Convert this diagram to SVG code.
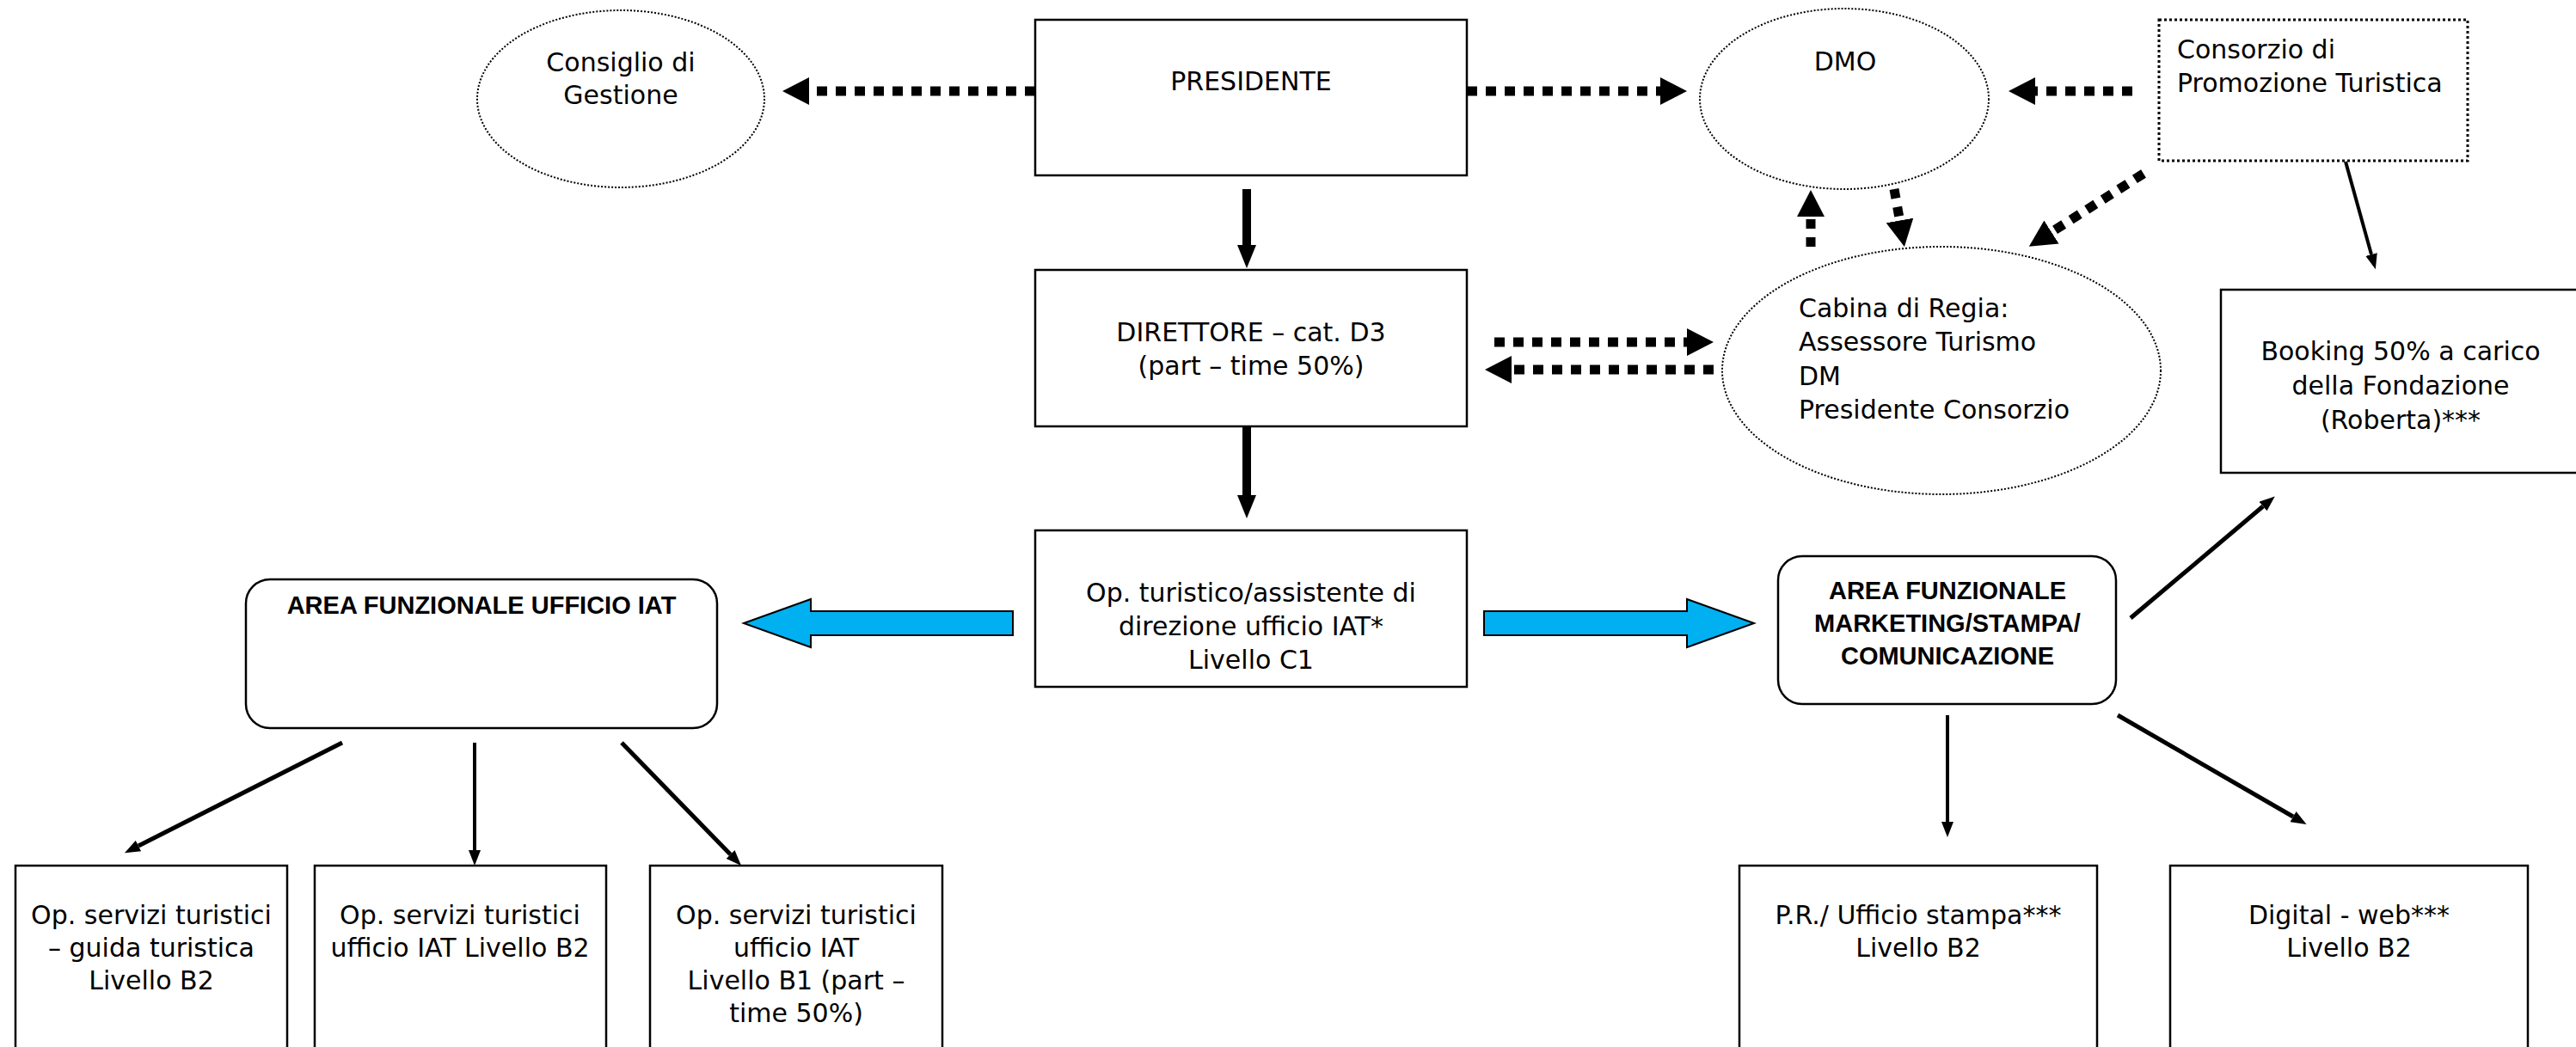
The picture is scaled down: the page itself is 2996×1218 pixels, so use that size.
<svg xmlns="http://www.w3.org/2000/svg" width="2996" height="1218" viewBox="0 0 2996 1218">
<style>
.box{fill:#fff;stroke:#000;stroke-width:2.5}
.oval{fill:#fff;stroke:#000;stroke-width:2;stroke-dasharray:2 2}
.dbox{fill:#fff;stroke:#000;stroke-width:3;stroke-dasharray:3 3}
.t{font-family:"DejaVu Sans","Liberation Sans",sans-serif;font-size:30px;fill:#000}
.c{text-anchor:middle}
.b{font-family:"Liberation Sans",Arial,sans-serif;font-size:29px;font-weight:bold;fill:#000;text-anchor:middle}
.dot{fill:none;stroke:#000;stroke-width:11;stroke-dasharray:12 10;marker-end:url(#hd)}
.dash{fill:none;stroke:#000;stroke-width:11;stroke-dasharray:11 10;marker-end:url(#hd)}
.thick{fill:none;stroke:#000;stroke-width:10;marker-end:url(#hb)}
.thin{fill:none;stroke:#000;stroke-width:4;marker-end:url(#ht)}
.thin5{fill:none;stroke:#000;stroke-width:5;marker-end:url(#ht)}
.blue{fill:#00B0F0;stroke:#000;stroke-width:2}
</style>
<defs>
<marker id="hd" markerUnits="userSpaceOnUse" viewBox="0 0 31 32" markerWidth="31" markerHeight="32" refX="0" refY="16" orient="auto"><path d="M0,0 L31,16 L0,32 z" fill="#000"/></marker>
<marker id="hb" markerUnits="userSpaceOnUse" viewBox="0 0 27 22" markerWidth="27" markerHeight="22" refX="0" refY="11" orient="auto"><path d="M0,0 L27,11 L0,22 z" fill="#000"/></marker>
<marker id="ht" markerUnits="userSpaceOnUse" viewBox="0 0 18 14" markerWidth="18" markerHeight="14" refX="0" refY="7" orient="auto"><path d="M0,0 L18,7 L0,14 z" fill="#000"/></marker>
</defs>
<rect width="2996" height="1218" fill="#fff"/>

<g id="connectors">
<line class="dot" x1="1204" y1="106" x2="941" y2="106"/>
<line class="dot" x1="1706" y1="106" x2="1931" y2="106"/>
<line class="dot" x1="2480" y1="106" x2="2367" y2="106"/>
<line class="dot" x1="1738" y1="398" x2="1962" y2="398"/>
<line class="dot" x1="1993" y1="430" x2="1758" y2="430"/>
<line class="dash" x1="2106" y1="287" x2="2106" y2="252"/>
<line class="dash" x1="2203" y1="220" x2="2209.5" y2="256.5"/>
<line class="dot" x1="2493" y1="202" x2="2386" y2="270"/>
<line class="thick" x1="1450" y1="220" x2="1450" y2="285"/>
<line class="thick" x1="1450" y1="497" x2="1450" y2="576"/>
<line class="thin" x1="2728" y1="188" x2="2758" y2="296"/>
<line class="thin5" x1="2478" y1="719" x2="2632" y2="589"/>
<line class="thin" x1="2265" y1="832" x2="2265" y2="956"/>
<line class="thin5" x1="2463" y1="832" x2="2667" y2="950"/>
<line class="thin5" x1="398" y1="864" x2="161" y2="984"/>
<line class="thin" x1="552" y1="864" x2="552" y2="989"/>
<line class="thin5" x1="723" y1="864" x2="849.5" y2="994"/>
<polygon class="blue" points="865,725 943,697 943,711 1178,711 1178,739 943,739 943,753"/>
<polygon class="blue" points="1726,711 1962,711 1962,697 2040,725 1962,753 1962,739 1726,739"/>
</g>

<g id="consiglio">
<ellipse class="oval" cx="722" cy="115" rx="167" ry="103"/>
<text class="t c" x="722" y="83">Consiglio di</text>
<text class="t c" x="722" y="121">Gestione</text>
</g>
<g id="presidente">
<rect class="box" x="1204" y="23" width="502" height="181"/>
<text class="t c" x="1455" y="105">PRESIDENTE</text>
</g>
<g id="dmo">
<ellipse class="oval" cx="2145" cy="115" rx="168" ry="105"/>
<text class="t c" x="2146" y="82">DMO</text>
</g>
<g id="consorzio">
<rect class="dbox" x="2511" y="23" width="359" height="164"/>
<text class="t" x="2532" y="68">Consorzio di</text>
<text class="t" x="2532" y="107">Promozione Turistica</text>
</g>
<g id="direttore">
<rect class="box" x="1204" y="314" width="502" height="182"/>
<text class="t c" x="1455" y="397">DIRETTORE – cat. D3</text>
<text class="t c" x="1455" y="436">(part – time 50%)</text>
</g>
<g id="cabina">
<ellipse class="oval" cx="2258" cy="431" rx="255" ry="144"/>
<text class="t" x="2092" y="369">Cabina di Regia:</text>
<text class="t" x="2092" y="408">Assessore Turismo</text>
<text class="t" x="2092" y="448">DM</text>
<text class="t" x="2092" y="487">Presidente Consorzio</text>
</g>
<g id="booking">
<rect class="box" x="2583" y="337" width="500" height="213"/>
<text class="t c" x="2792" y="419">Booking 50% a carico</text>
<text class="t c" x="2792" y="459">della Fondazione</text>
<text class="t c" x="2792" y="499">(Roberta)***</text>
</g>
<g id="operatore">
<rect class="box" x="1204" y="617" width="502" height="182"/>
<text class="t c" x="1455" y="700">Op. turistico/assistente di</text>
<text class="t c" x="1455" y="739">direzione ufficio IAT*</text>
<text class="t c" x="1455" y="778">Livello C1</text>
</g>
<g id="area-iat">
<rect class="box" x="286" y="674" width="548" height="173" rx="28" ry="28"/>
<text class="b" x="560" y="714">AREA FUNZIONALE UFFICIO IAT</text>
</g>
<g id="area-marketing">
<rect class="box" x="2068" y="647" width="393" height="172" rx="28" ry="28"/>
<text class="b" x="2265" y="697">AREA FUNZIONALE</text>
<text class="b" x="2265" y="735">MARKETING/STAMPA/</text>
<text class="b" x="2265" y="773">COMUNICAZIONE</text>
</g>
<g id="guida">
<rect class="box" x="18" y="1007" width="316" height="260"/>
<text class="t c" x="176" y="1075">Op. servizi turistici</text>
<text class="t c" x="176" y="1113">– guida turistica</text>
<text class="t c" x="176" y="1151">Livello B2</text>
</g>
<g id="ufficio-b2">
<rect class="box" x="366" y="1007" width="339" height="260"/>
<text class="t c" x="535" y="1075">Op. servizi turistici</text>
<text class="t c" x="535" y="1113">ufficio IAT Livello B2</text>
</g>
<g id="ufficio-b1">
<rect class="box" x="756" y="1007" width="340" height="260"/>
<text class="t c" x="926" y="1075">Op. servizi turistici</text>
<text class="t c" x="926" y="1113">ufficio IAT</text>
<text class="t c" x="926" y="1151">Livello B1 (part –</text>
<text class="t c" x="926" y="1189">time 50%)</text>
</g>
<g id="pr">
<rect class="box" x="2023" y="1007" width="416" height="260"/>
<text class="t c" x="2231" y="1075">P.R./ Ufficio stampa***</text>
<text class="t c" x="2231" y="1113">Livello B2</text>
</g>
<g id="digital">
<rect class="box" x="2524" y="1007" width="416" height="260"/>
<text class="t c" x="2732" y="1075">Digital - web***</text>
<text class="t c" x="2732" y="1113">Livello B2</text>
</g>
</svg>
